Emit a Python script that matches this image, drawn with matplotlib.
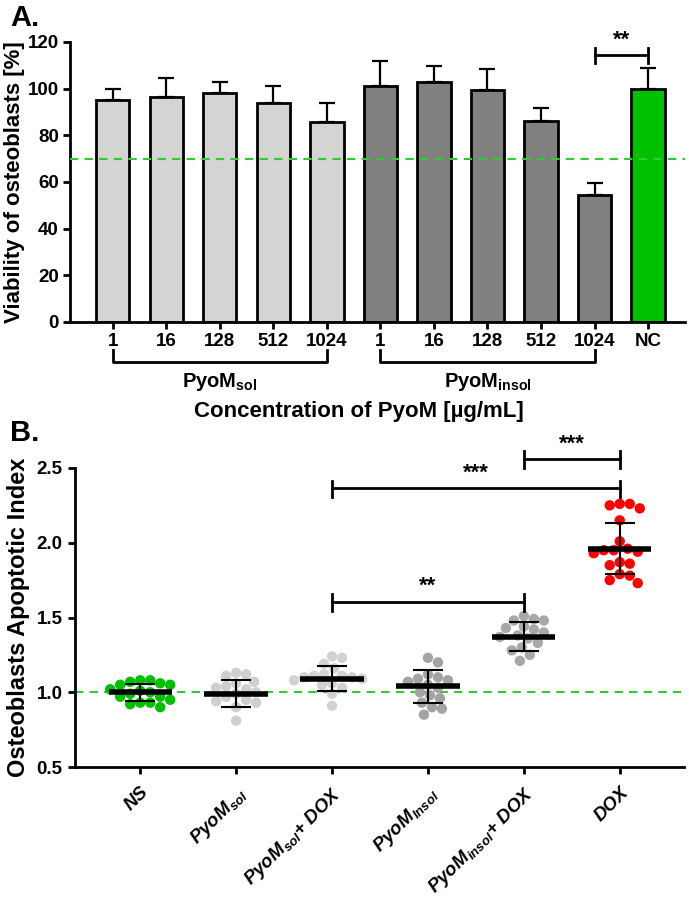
import numpy as np
import matplotlib
matplotlib.use('Agg')
import matplotlib.pyplot as plt

# ------------------------------------------------------------------
# Panel A : viability of osteoblasts
# ------------------------------------------------------------------
conc_labels = ['1', '16', '128', '512', '1024', '1', '16', '128', '512', '1024', 'NC']
viab_sol = [95.3, 96.6, 98.1, 93.9, 85.7]
viab_sol_err = [4.7, 7.9, 4.7, 7.2, 8.3]
viab_insol = [101.2, 102.9, 99.5, 86.1, 54.4]
viab_insol_err = [10.5, 6.9, 8.8, 5.7, 5.2]
viab_nc = [100.0]
viab_nc_err = [8.7]
threshold_a = 70

# ------------------------------------------------------------------
# Panel B : apoptotic index (individual values, mean, SD)
# ------------------------------------------------------------------
groups_b = ['NS', 'PyoM$_{\\mathsf{sol}}$', 'PyoM$_{\\mathsf{sol}}$+ DOX',
            'PyoM$_{\\mathsf{Insol}}$', 'PyoM$_{\\mathsf{insol}}$+ DOX', 'DOX']
ns_vals = [1.08, 1.08, 1.07, 1.06, 1.05, 1.05, 1.02, 1.01, 1.00, 0.99,
           0.97, 0.97, 0.95, 0.93, 0.93, 0.92, 0.90]
sol_vals = [1.13, 1.12, 1.11, 1.07, 1.06, 1.04, 1.03, 1.02, 1.00, 0.99,
            0.97, 0.95, 0.94, 0.93, 0.90, 0.81]
sol_dox_vals = [1.24, 1.23, 1.19, 1.16, 1.12, 1.11, 1.11, 1.10, 1.10, 1.09,
                1.08, 1.06, 1.05, 1.03, 0.99, 0.91]
insol_vals = [1.23, 1.20, 1.12, 1.10, 1.09, 1.08, 1.07, 1.05, 1.03, 1.00,
              0.98, 0.96, 0.93, 0.90, 0.89, 0.85]
insol_dox_vals = [1.51, 1.49, 1.48, 1.48, 1.44, 1.43, 1.42, 1.40, 1.38, 1.37,
                  1.36, 1.33, 1.30, 1.28, 1.25, 1.21]
dox_vals = [2.26, 2.26, 2.25, 2.23, 2.15, 2.01, 1.96, 1.95, 1.95, 1.94,
            1.93, 1.87, 1.86, 1.85, 1.79, 1.78, 1.75, 1.73]
means_b = [1.00, 0.99, 1.09, 1.04, 1.37, 1.96]
sd_b = [0.058, 0.090, 0.083, 0.110, 0.097, 0.170]
threshold_b = 1.0

# significance brackets : (x1, x2, y, label)
sig_a = [(9, 10, 114.4, '**')]
sig_b = [(4, 5, 2.562, '***'), (2, 5, 2.366, '***'), (2, 4, 1.606, '**')]

# ------------------------------------------------------------------
NARROW = ['Liberation Sans Narrow', 'Liberation Sans', 'DejaVu Sans']
REG = ['Liberation Sans', 'DejaVu Sans']
plt.rcParams['font.family'] = REG
plt.rcParams['font.weight'] = 'bold'
plt.rcParams['axes.labelweight'] = 'bold'
plt.rcParams['mathtext.fontset'] = 'custom'
plt.rcParams['mathtext.rm'] = 'Liberation Sans:bold'
plt.rcParams['mathtext.bf'] = 'Liberation Sans:bold'
plt.rcParams['mathtext.it'] = 'Liberation Sans:bold:italic'
plt.rcParams['mathtext.sf'] = 'Liberation Sans:italic'
plt.rcParams['axes.linewidth'] = 2

GREEN = '#00c000'
DASH = '#2ecc2e'

fig = plt.figure(figsize=(6.89, 9.0), dpi=100)
W, H = 689, 900


def box(l, t, r, b):
    return [l / W, 1 - b / H, (r - l) / W, (b - t) / H]


# ------------------------------- A --------------------------------
axA = fig.add_axes(box(70, 42, 685, 322))
xa = np.arange(len(conc_labels))
vals_a = viab_sol + viab_insol + viab_nc
errs_a = viab_sol_err + viab_insol_err + viab_nc_err
cols_a = ['#d4d4d4'] * len(viab_sol) + ['#808080'] * len(viab_insol) + [GREEN]
axA.bar(xa, vals_a, width=0.62, color=cols_a, edgecolor='black', linewidth=2, zorder=2)
axA.errorbar(xa, vals_a, yerr=[np.zeros(len(vals_a)), errs_a], fmt='none',
             ecolor='black', elinewidth=1.6, capsize=6, capthick=1.6, zorder=1)
axA.axhline(threshold_a, color=DASH, ls=(0, (4, 3)), lw=1.5, zorder=3)
axA.set_xlim(-0.8, 10.69)
axA.set_ylim(0, 120)
axA.set_yticks(np.arange(0, 121, 20))
axA.set_xticks(xa)
axA.set_xticklabels(conc_labels)
for s in ['top', 'right']:
    axA.spines[s].set_visible(False)
axA.tick_params(width=2, length=5, pad=3, labelsize=13.5)
for lab in axA.get_xticklabels() + axA.get_yticklabels():
    lab.set_family(NARROW)
axA.set_ylabel('Viability of osteoblasts [%]', fontsize=16, fontweight='bold', labelpad=2)

tr = axA.get_xaxis_transform()
for x0, x1, name, xc in [(0, 4, 'PyoM$_{\\mathrm{sol}}$', 2), (5, 9, 'PyoM$_{\\mathrm{insol}}$', 7)]:
    axA.plot([x0, x0, x1, x1], [-0.1, -0.143, -0.143, -0.1], color='black',
             lw=2, transform=tr, clip_on=False)
    axA.text(xc, -0.215, name, transform=tr, ha='center', va='center',
             fontsize=14.5, family=NARROW)
axA.text(4.6, -0.32, 'Concentration of PyoM [µg/mL]', transform=tr,
         ha='center', va='center', fontsize=16, family=NARROW)

for x1, x2, y, lab in sig_a:
    axA.plot([x1, x2], [y, y], color='black', lw=2, clip_on=False)
    axA.plot([x1, x1], [y - 3.4, y + 3.0], color='black', lw=2, clip_on=False)
    axA.plot([x2, x2], [y - 3.4, y + 3.0], color='black', lw=2, clip_on=False)
    axA.text((x1 + x2) / 2, y + 2.0, lab, ha='center', va='bottom', fontsize=16)

fig.text(10 / W, 1 - 18 / H, 'A.', fontsize=21, va='center', ha='left')

# ------------------------------- B --------------------------------
axB = fig.add_axes(box(75, 468, 684, 767))
xb_lim = (-0.68, 5.67)
yb_lim = (0.5, 2.5)
axB.set_xlim(*xb_lim)
axB.set_ylim(*yb_lim)

px_x = (684 - 75) / (xb_lim[1] - xb_lim[0])
px_y = (767 - 468) / (yb_lim[1] - yb_lim[0])


def swarm(vals, diam):
    # simple beeswarm: place each point at the smallest free x offset
    vals = np.asarray(vals)
    order = np.argsort(-vals)
    placed = []
    offs = np.zeros(len(vals))
    for i in order:
        yi = vals[i] * px_y
        pos = 0.0
        for k in range(60):
            cands = [0.0] if k == 0 else [k * diam * 0.2, -k * diam * 0.2]
            found = False
            for c in cands:
                if all((c - a) ** 2 + (yi - b) ** 2 >= diam ** 2 for a, b in placed):
                    pos = c
                    found = True
                    break
            if found:
                break
        placed.append((pos, yi))
        offs[i] = pos / px_x
    return offs


all_vals = [ns_vals, sol_vals, sol_dox_vals, insol_vals, insol_dox_vals, dox_vals]
pt_cols = [GREEN, '#cfcfcf', '#d2d2d2', '#a3a3a3', '#a8a8a8', '#ff0000']
for i, v in enumerate(all_vals):
    off = swarm(v, 10.0)
    axB.scatter(i + off, v, s=56, color=pt_cols[i], edgecolors='none', zorder=2)

axB.axhline(threshold_b, color=DASH, ls=(0, (4, 3)), lw=1.5, zorder=1)
xb = np.arange(len(groups_b))
axB.hlines(means_b, xb - 0.33, xb + 0.33, color='black', lw=4, zorder=4)
axB.errorbar(xb, means_b, yerr=sd_b, fmt='none', ecolor='black', elinewidth=1.5,
             capsize=11, capthick=1.5, zorder=4)

axB.set_yticks(np.arange(0.5, 2.51, 0.5))
axB.set_yticklabels(['%.1f' % t for t in np.arange(0.5, 2.51, 0.5)])
axB.set_xticks(xb)
axB.set_xticklabels(groups_b, rotation=45, ha='right', va='top',
                    rotation_mode='anchor', fontsize=14, style='italic')
for s in ['top', 'right']:
    axB.spines[s].set_visible(False)
axB.tick_params(width=2, length=5, pad=4, labelsize=13.5)
axB.tick_params(axis='x', pad=7)
for lab in axB.get_yticklabels():
    lab.set_family(NARROW)
axB.set_ylabel('Osteoblasts Apoptotic Index', fontsize=17, fontweight='bold', labelpad=5)

for x1, x2, y, lab in sig_b:
    axB.plot([x1, x2], [y, y], color='black', lw=2, clip_on=False)
    axB.plot([x1, x1], [y - 0.06, y + 0.05], color='black', lw=2, clip_on=False)
    axB.plot([x2, x2], [y - 0.06, y + 0.05], color='black', lw=2, clip_on=False)
    axB.text((x1 + x2) / 2, y + 0.03, lab, ha='center', va='bottom', fontsize=16)

fig.text(10 / W, 1 - 433 / H, 'B.', fontsize=21, va='center', ha='left')

fig.savefig('out.png', dpi=100)
